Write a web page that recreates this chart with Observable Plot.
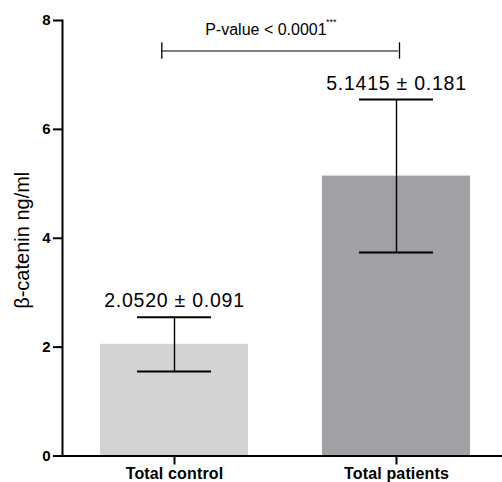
<!DOCTYPE html>
<html>
<head>
<meta charset="utf-8">
<script src="https://cdn.jsdelivr.net/npm/d3@7"></script>
<script src="https://cdn.jsdelivr.net/npm/@observablehq/plot@0.6"></script>
<style>
  html, body { margin: 0; padding: 0; background: #fff; }
  #chart svg { display: block; }
</style>
</head>
<body>
<div id="chart"></div>
<script>
// ---- data ----
const categories = ["Total control", "Total patients"];
const means = [2.052, 5.1415];
const errLow = [1.552, 3.738];
const errHigh = [2.55, 6.548];
const valueLabels = ["2.0520 \u00b1 0.091", "5.1415 \u00b1 0.181"];
const barColors = ["#d3d3d3", "#a1a0a5"];
const yTicks = [0, 2, 4, 6, 8];
const yLabel = "\u03b2-catenin ng/ml";
const pText = "P-value < 0.0001";
const pStars = "***";
const pLevel = 7.44;

const rows = categories.map((c, i) => ({
  cat: c, mean: means[i], lo: errLow[i], hi: errHigh[i], label: valueLabels[i], color: barColors[i]
}));
const bracket = [{from: categories[0], to: categories[1], y: pLevel}];

const chart = Plot.plot({
  width: 502,
  height: 482,
  marginLeft: 62,
  marginRight: 0,
  marginTop: 20,
  marginBottom: 26.5,
  style: {fontFamily: "'Liberation Sans', Arial, sans-serif", color: "#000", background: "#fff", overflow: "visible"},
  x: {type: "band", domain: categories, range: [62, 507.7], paddingInner: 0.333, paddingOuter: 0.167, label: null},
  y: {domain: [0, 8], nice: false, label: null},
  marks: [
    Plot.barY(rows, {x: "cat", y: "mean", fill: "color"}),
    // error bars
    Plot.ruleX(rows, {x: "cat", y1: "lo", y2: "hi", stroke: "#000", strokeWidth: 1.4}),
    Plot.tickY(rows, {x: "cat", y: "lo", stroke: "#000", strokeWidth: 2, insetLeft: 37, insetRight: 37}),
    Plot.tickY(rows, {x: "cat", y: "hi", stroke: "#000", strokeWidth: 2, insetLeft: 37, insetRight: 37}),
    Plot.text(rows, {x: "cat", y: "hi", text: "label", fontSize: 19.5, lineAnchor: "bottom", dy: -10, dx: 0, fill: "#000"}),
    // p-value bracket
    Plot.ruleY(bracket, {y: "y", x1: "from", x2: "to", stroke: "#000", strokeWidth: 1, insetLeft: 61.7, insetRight: 71.7}),
    Plot.ruleX(bracket, {x: "from", stroke: "#000", strokeWidth: 1.3, dx: -12.7, y1: (d) => d.y - 0.15, y2: (d) => d.y + 0.15}),
    Plot.ruleX(bracket, {x: "to", stroke: "#000", strokeWidth: 1.3, dx: 3, y1: (d) => d.y - 0.15, y2: (d) => d.y + 0.15}),
    Plot.text(bracket, {y: "y", text: () => pText, fontSize: 16, lineAnchor: "bottom", dx: -16.6, dy: -15.7, fill: "#000"}),
    Plot.text(bracket, {y: "y", text: () => pStars, fontSize: 9, textAnchor: "start", lineAnchor: "top", dx: 43.5, dy: -32, fill: "#000"}),
    // axes
    Plot.ruleY([0], {stroke: "#000", strokeWidth: 2}),
    Plot.frame({anchor: "left", stroke: "#000", strokeWidth: 2}),
    Plot.axisY(yTicks, {tickSize: 9, stroke: "#000", strokeWidth: 2, tickFormat: () => "", label: null}),
    Plot.text(yTicks, {y: (d) => d, text: (d) => String(d), frameAnchor: "left", textAnchor: "end", dx: -12, fontSize: 15, fontWeight: "bold", fill: "#000"}),
    Plot.axisX({tickSize: 9, tickPadding: 3, fontSize: 16, fontWeight: "bold", stroke: "#000", strokeWidth: 2, label: null}),
    Plot.text([yLabel], {text: (d) => d, frameAnchor: "left", textAnchor: "middle", rotate: -90, dx: -40, dy: 2, fontSize: 20, fill: "#000"})
  ]
});
// letter spacing to match the reference's slightly wider glyph advance
d3.select(chart).selectAll("text")
  .filter(function () { return valueLabels.includes(this.textContent); })
  .attr("letter-spacing", "0.75px");
d3.select(chart).selectAll("text")
  .filter(function () { return categories.includes(this.textContent); })
  .attr("letter-spacing", "0.15px");
document.getElementById("chart").appendChild(chart);
</script>
</body>
</html>
